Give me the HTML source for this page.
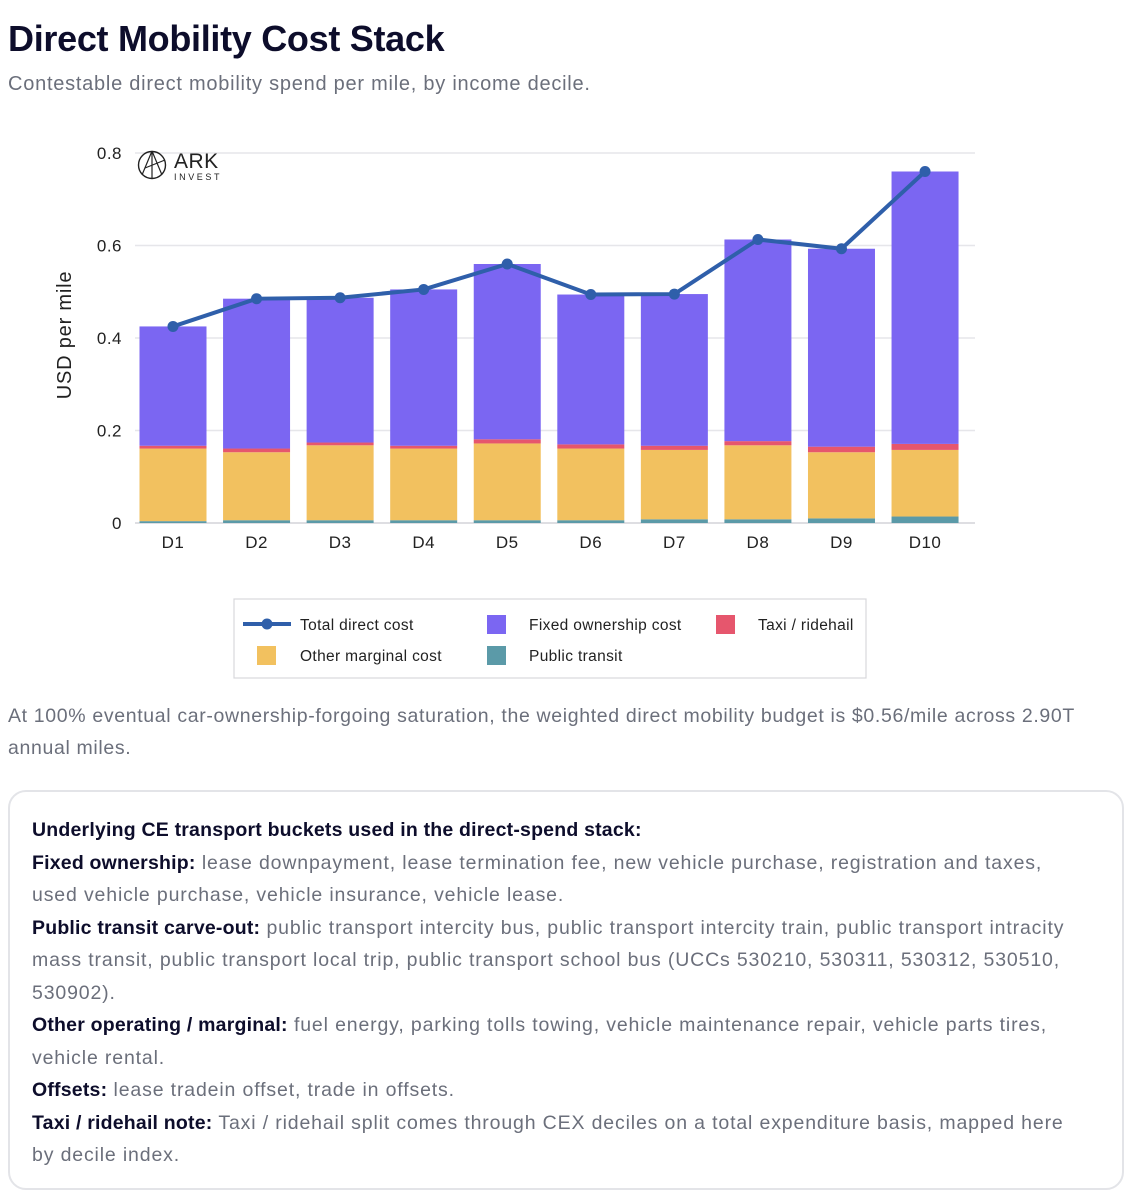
<!DOCTYPE html>
<html><head><meta charset="utf-8"><style>
body{margin:0;background:#fff;font-family:"Liberation Sans",sans-serif;width:1145px;height:1200px;overflow:hidden;position:relative}
#title{position:absolute;left:8px;top:18px;font-size:36px;font-weight:bold;color:#0d0d2b;letter-spacing:-0.3px}
#sub{position:absolute;left:8px;top:73px;font-size:20px;color:#6b6f7b;letter-spacing:0.75px}
#note{position:absolute;left:8px;top:700px;width:1120px;font-size:19.5px;line-height:32px;color:#6b6f7b;letter-spacing:0.65px}
#box{position:absolute;left:8px;top:790px;width:1116px;height:400px;border:2px solid #e3e4e8;border-radius:18px;box-sizing:border-box;padding:22px 40px 22px 22px;font-size:19.5px;line-height:32.5px;color:#6b6f7b;letter-spacing:0.85px}
#box b{color:#0d0d2b;letter-spacing:0.2px}
</style></head><body>
<div id="title">Direct Mobility Cost Stack</div>
<div id="sub">Contestable direct mobility spend per mile, by income decile.</div>
<svg id="chart" width="1145" height="690" style="position:absolute;left:0;top:0" font-family="Liberation Sans, sans-serif"></svg>
<div id="note">At 100% eventual car-ownership-forgoing saturation, the weighted direct mobility budget is $0.56/mile across 2.90T annual miles.</div>
<div id="box">
<b>Underlying CE transport buckets used in the direct-spend stack:</b><br>
<b>Fixed ownership:</b> lease downpayment, lease termination fee, new vehicle purchase, registration and taxes, used vehicle purchase, vehicle insurance, vehicle lease.<br>
<b>Public transit carve-out:</b> public transport intercity bus, public transport intercity train, public transport intracity mass transit, public transport local trip, public transport school bus (UCCs 530210, 530311, 530312, 530510, 530902).<br>
<b>Other operating / marginal:</b> fuel energy, parking tolls towing, vehicle maintenance repair, vehicle parts tires, vehicle rental.<br>
<b>Offsets:</b> lease tradein offset, trade in offsets.<br>
<b>Taxi / ridehail note:</b> Taxi / ridehail split comes through CEX deciles on a total expenditure basis, mapped here by decile index.
</div>
<script>
const categories=["D1","D2","D3","D4","D5","D6","D7","D8","D9","D10"];
const transit=[0.004,0.006,0.006,0.006,0.006,0.006,0.008,0.008,0.010,0.014];
const marginal=[0.157,0.147,0.162,0.155,0.166,0.155,0.150,0.160,0.143,0.144];
const taxi=[0.006,0.008,0.006,0.006,0.009,0.009,0.009,0.009,0.012,0.013];
const total=[0.425,0.485,0.487,0.505,0.560,0.494,0.495,0.613,0.593,0.760];
const yTicks=[0,0.2,0.4,0.6,0.8];
const yTickLabels=["0","0.2","0.4","0.6","0.8"];
const NS="http://www.w3.org/2000/svg";
const svg=document.getElementById('chart');
const y=v=>523-v*462.5;
const x=i=>173+i*83.56;
const bw=67;
function mk(t,a){const e=document.createElementNS(NS,t);for(const k in a)e.setAttribute(k,a[k]);svg.appendChild(e);return e;}
yTicks.forEach((t,i)=>{
 const g=mk('line',{x1:135,x2:975,y1:y(t),y2:y(t),stroke:i==0?'#d4d4d8':'#e6e6ea','stroke-width':1.5});
 
 
 const tx=mk('text',{x:122,y:y(t)+6,'text-anchor':'end','font-size':17,fill:'#222','letter-spacing':0.5});
 tx.textContent=yTickLabels[i];
 
 
});
const yt=mk('text',{x:0,y:0,'font-size':20,fill:'#222','text-anchor':'middle','letter-spacing':0.8,transform:'translate(71,335) rotate(-90)'});
yt.textContent='USD per mile';


categories.forEach((c,i)=>{
 let b=0;
 const fixed=total[i]-transit[i]-marginal[i]-taxi[i];
 [[transit[i],'#5b9aa8','bar-transit'],[marginal[i],'#f2c15f','bar-marginal'],[taxi[i],'#e6566d','bar-taxi'],[fixed,'#7b66f2','bar-fixed']].forEach(([v,col,n])=>{
  const r=mk('rect',{x:x(i)-bw/2,y:y(b+v),width:bw,height:y(b)-y(b+v),fill:col});
  
  
  b+=v;
 });
 const t=mk('text',{x:x(i),y:548,'text-anchor':'middle','font-size':17,fill:'#222','letter-spacing':0.5});
 t.textContent=c;
 
 
});
const pl=mk('polyline',{points:total.map((v,i)=>x(i)+','+y(v)).join(' '),fill:'none',stroke:'#2f5faa','stroke-width':4,'stroke-linejoin':'round'});


total.forEach((v,i)=>{const c=mk('circle',{cx:x(i),cy:y(v),r:5.5,fill:'#2f5faa'});
 
 });
const lg=mk('g',{});


mk('circle',{cx:152,cy:165,r:13.5,fill:'none',stroke:'#222','stroke-width':1.4});
mk('path',{d:'M152 151 L142 175 M152 151 L162 175 M145 168 L165 160 M152 151 L152 179',fill:'none',stroke:'#222','stroke-width':1.2});
const a=mk('text',{x:174,y:168,'font-size':21,fill:'#222','letter-spacing':0.5});a.textContent='ARK';


const b2=mk('text',{x:174,y:180,'font-size':9,'letter-spacing':2.6,fill:'#222'});b2.textContent='INVEST';


const lb=mk('rect',{x:234,y:599,width:632,height:79,fill:'#fff',stroke:'#d8d8dc','stroke-width':1.2});


const items=[[243,624,'line','#2f5faa','Total direct cost'],[487,624,'sq','#7b66f2','Fixed ownership cost'],[716,624,'sq','#e6566d','Taxi / ridehail'],[257,655,'sq','#f2c15f','Other marginal cost'],[487,655,'sq','#5b9aa8','Public transit']];
items.forEach(([lx,ly,tp,col,lab])=>{
 if(tp=='line'){mk('line',{x1:lx,x2:lx+48,y1:ly,y2:ly,stroke:col,'stroke-width':4});mk('circle',{cx:lx+24,cy:ly,r:5.5,fill:col});}
 else mk('rect',{x:lx,y:ly-9,width:19,height:19,fill:col});
 const t=mk('text',{x:tp=='line'?lx+57:(lx==257?lx+43:lx+42),y:ly+6,'font-size':15.5,fill:'#222','letter-spacing':0.35});
 t.textContent=lab;
 
 
});
</script>
</body></html>
